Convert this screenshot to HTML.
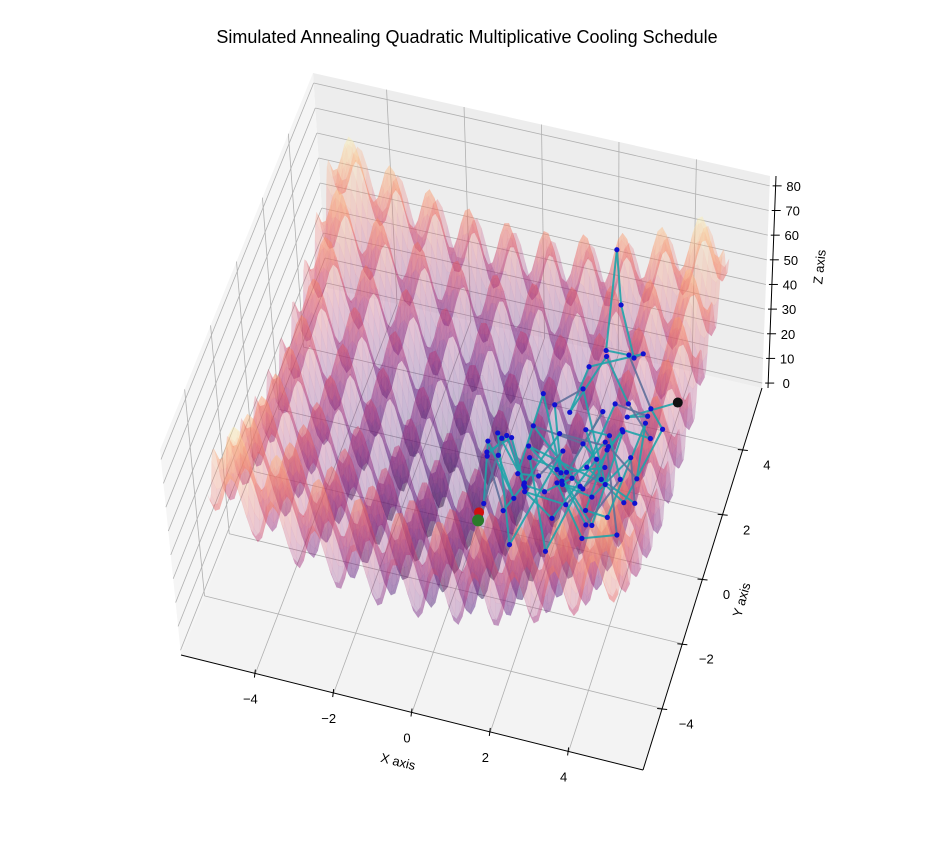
<!DOCTYPE html>
<html><head><meta charset="utf-8"><style>
body{margin:0;background:#fff;}
svg{display:block;font-family:"Liberation Sans",sans-serif;}
</style></head><body>
<svg id="chart" width="943" height="847" viewBox="0 0 943 847">
<text x="467" y="43" text-anchor="middle" font-size="18">Simulated Annealing Quadratic Multiplicative Cooling Schedule</text>
<g id="panes"></g>
<g id="grid"></g>
<g id="surface"></g>
<g id="path"></g>
<g id="axes"></g>
<text x="398" y="766" font-size="13" text-anchor="middle" transform="rotate(14 398 762)">X axis</text>
<text x="742" y="604" font-size="13" text-anchor="middle" transform="rotate(-74 742 600)">Y axis</text>
<text x="820" y="271" font-size="13" text-anchor="middle" transform="rotate(-84 820 267)">Z axis</text>
</svg>
<script>
// ---- data ----
const xTicks = [-4, -2, 0, 2, 4];
const yTicks = [-4, -2, 0, 2, 4];
const zTicks = [0, 10, 20, 30, 40, 50, 60, 70, 80];
const pathX = [4.7, 3.6, 4.3, 3.2, 2.8, 3.9, 4.6, 4.1, 3.3, 2.5, 2.4, 2.6, 3.0, 3.5, 2.2, 1.8, 2.6, 3.4, 4.2, 3.7, 2.9, 2.0, 1.5, 2.4, 3.1, 1.2, 1.9, 2.7, 2.3, 1.6, 2.1, 2.8, 1.4, 2.5, 3.0, 2.2, 1.7, 2.6, 3.3, 2.0, 1.3, 0.8, 1.6, 2.4, 1.1, 0.5, 1.0, 1.8, 2.9, 3.6, 3.0, 2.3, 3.2, 3.9, 3.4, 2.7, 3.5, 4.1, 3.8, 3.1, 2.6, 3.3, 4.0, 3.6, 2.9, 3.7, 4.3, 3.9, 3.2, 2.5, 1.9, 1.3, 0.9, 0.4, 0.7, 1.2, 0.6, 0.1, 0.3, 0.9, 0.5, 0.2, 0.6, 0.05, 0.0];
const pathY = [1.95, 1.2, 0.6, 1.5, 0.3, -0.2, 0.9, 1.6, 2.4, 3.1, 4.4, 4.1, 3.9, 3.0, 2.6, 2.2, 2.8, 2.0, 1.2, 0.4, -0.4, 0.8, 1.9, 1.4, 0.9, 0.6, 1.1, 2.1, 0.2, -0.6, -1.1, -0.3, 0.4, 1.0, 0.5, -0.8, -1.4, -0.9, 0.2, 0.7, 1.6, 0.9, 0.1, -0.4, -0.9, 0.3, 0.8, 1.3, 1.9, 0.8, 0.0, -0.6, -1.2, -0.5, 0.3, 0.6, -0.8, 0.1, 0.8, -0.3, -1.6, -1.9, -1.2, -0.6, -0.2, -1.0, 0.4, 1.0, 0.6, 0.0, -0.4, -0.2, -0.7, -0.3, 0.4, 0.2, 1.1, 0.6, 0.9, 0.2, -0.5, -0.1, 0.3, 0.05, 0.0];

// ---- projection ----
const XMIN=-5.9, XMAX=5.9, YMIN=-5.9, YMAX=5.9, ZMIN=-2, ZMAX=84;
const SMIN=-5.12, SMAX=5.12;
const FL=[181,655], FR=[643,770], BR=[762,388], BL=[327,288];
const ZFL=[-21,-205], ZFR=[-5,-215], ZBR=[8,-212], ZBL=[-14,-215];
function bil(a,b,c,d,u,v,i){return a[i]*(1-u)*(1-v)+b[i]*u*(1-v)+c[i]*u*v+d[i]*(1-u)*v;}
function P(x,y,z){
  const u=(x-XMIN)/(XMAX-XMIN), v=(y-YMIN)/(YMAX-YMIN), w=(z-ZMIN)/(ZMAX-ZMIN);
  return [bil(FL,FR,BR,BL,u,v,0)+w*bil(ZFL,ZFR,ZBR,ZBL,u,v,0),
          bil(FL,FR,BR,BL,u,v,1)+w*bil(ZFL,ZFR,ZBR,ZBL,u,v,1)];
}
function f(x,y){return 20+x*x-10*Math.cos(2*Math.PI*x)+y*y-10*Math.cos(2*Math.PI*y);}
const NS="http://www.w3.org/2000/svg";
function mk(tag,parent,attrs){const e=document.createElementNS(NS,tag);for(const k in attrs)e.setAttribute(k,attrs[k]);parent.appendChild(e);return e;}
function pts(a){return a.map(p=>p[0].toFixed(1)+","+p[1].toFixed(1)).join(" ");}

// panes
const panes=document.getElementById('panes');
let e;
e=mk('polygon',panes,{points:pts([P(XMIN,YMIN,ZMIN),P(XMAX,YMIN,ZMIN),P(XMAX,YMAX,ZMIN),P(XMIN,YMAX,ZMIN)]),fill:'#f3f3f3'});


e=mk('polygon',panes,{points:pts([P(XMIN,YMAX,ZMIN),P(XMAX,YMAX,ZMIN),P(XMAX,YMAX,ZMAX),P(XMIN,YMAX,ZMAX)]),fill:'#ededed'});


e=mk('polygon',panes,{points:pts([P(XMIN,YMIN,ZMIN),P(XMIN,YMAX,ZMIN),P(XMIN,YMAX,ZMAX),P(XMIN,YMIN,ZMAX)]),fill:'#f5f5f5'});



// grid
const grid=document.getElementById('grid');
function gl(a,b,name){const l=mk('line',grid,{x1:a[0],y1:a[1],x2:b[0],y2:b[1],stroke:'#b0b0b0','stroke-width':0.8});
  
  }
xTicks.forEach(t=>{gl(P(t,YMIN,ZMIN),P(t,YMAX,ZMIN),'floor-grid-x');gl(P(t,YMAX,ZMIN),P(t,YMAX,ZMAX),'back-grid-x');});
yTicks.forEach(t=>{gl(P(XMIN,t,ZMIN),P(XMAX,t,ZMIN),'floor-grid-y');gl(P(XMIN,t,ZMIN),P(XMIN,t,ZMAX),'left-grid-y');});
zTicks.forEach(t=>{gl(P(XMIN,YMAX,t),P(XMAX,YMAX,t),'back-grid-z');gl(P(XMIN,YMIN,t),P(XMIN,YMAX,t),'left-grid-z');});

// surface
const magma=[[0,0,0,4],[0.13,28,16,68],[0.25,79,18,123],[0.38,129,37,129],[0.5,181,54,122],[0.63,229,89,100],[0.75,251,135,97],[0.88,254,194,135],[1,252,253,191]];
function cmap(t){t=Math.max(0,Math.min(1,t));for(let i=1;i<magma.length;i++){if(t<=magma[i][0]){const a=magma[i-1],b=magma[i],s=(t-a[0])/(b[0]-a[0]);
  return 'rgb('+[1,2,3].map(k=>Math.round(a[k]+(b[k]-a[k])*s)).join(',')+')';}}return 'rgb(252,253,191)';}
const N=90, polys=[];
for(let i=0;i<N;i++)for(let j=0;j<N;j++){
  const x0=SMIN+(SMAX-SMIN)*i/N,x1=SMIN+(SMAX-SMIN)*(i+1)/N,y0=SMIN+(SMAX-SMIN)*j/N,y1=SMIN+(SMAX-SMIN)*(j+1)/N;
  const zs=[f(x0,y0),f(x1,y0),f(x1,y1),f(x0,y1)];const zm=(zs[0]+zs[1]+zs[2]+zs[3])/4;
  const c=P((x0+x1)/2,(y0+y1)/2,0);
  polys.push({p:[P(x0,y0,zs[0]),P(x1,y0,zs[1]),P(x1,y1,zs[2]),P(x0,y1,zs[3])],z:zm,d:c[1]+zm*0.8});
}
polys.sort((a,b)=>a.d-b.d);
const surf=document.getElementById('surface');
polys.forEach(q=>{const col=cmap(q.z/80.7);
  const pg=mk('polygon',surf,{points:pts(q.p),fill:col,'fill-opacity':0.26,stroke:col,'stroke-opacity':0.05,'stroke-width':0.4});
  
  
});

// path
const pathG=document.getElementById('path');
const sp=pathX.map((x,i)=>P(x,pathY[i],f(x,pathY[i])));
for(let i=0;i<sp.length-1;i++){
  const col=(i%5===2)?'#5f6f9a':'#1fa3a8';
  const l=mk('line',pathG,{x1:sp[i][0],y1:sp[i][1],x2:sp[i+1][0],y2:sp[i+1][1],stroke:col,'stroke-width':2,'stroke-opacity':0.9});
  
  
}
sp.forEach(p=>{const c=mk('circle',pathG,{cx:p[0],cy:p[1],r:2.6,fill:'#1010d0'});
  
  });
const st=mk('circle',pathG,{cx:sp[0][0],cy:sp[0][1],r:5,fill:'#111'});


const last=sp[sp.length-1];
const rd=mk('circle',pathG,{cx:last[0]+1,cy:last[1]-8,r:5,fill:'#d01010'});


const gr=mk('circle',pathG,{cx:last[0],cy:last[1],r:6,fill:'#2a7a2a'});



// axes ticks and labels
const axes=document.getElementById('axes');
function tl(x,y,s,name){const t=mk('text',axes,{x:x,y:y,'font-size':13,'text-anchor':'middle'});t.textContent=s;
  
  }
function fmt(v){return v<0?'\u2212'+(-v):String(v);}
function al(a,b,name){const l=mk('line',axes,{x1:a[0],y1:a[1],x2:b[0],y2:b[1],stroke:'#000','stroke-width':1});
  
  }
al(P(XMIN,YMIN,ZMIN),P(XMAX,YMIN,ZMIN),'x-axis-line');
al(P(XMAX,YMIN,ZMIN),P(XMAX,YMAX,ZMIN),'y-axis-line');
xTicks.forEach(t=>{const p=P(t,YMIN,ZMIN);
  const m=mk('line',axes,{x1:p[0],y1:p[1]-4,x2:p[0]-1,y2:p[1]+4,stroke:'#000','stroke-width':1});
  
  
  tl(p[0]-5,p[1]+30,fmt(t),'x-tick-label');});
yTicks.forEach(t=>{const p=P(XMAX,t,ZMIN);
  const m=mk('line',axes,{x1:p[0]-5,y1:p[1],x2:p[0]+5,y2:p[1]+1,stroke:'#000','stroke-width':1});
  
  
  tl(p[0]+24,p[1]+20,fmt(t),'y-tick-label');});
zTicks.forEach(t=>{const p=P(XMAX,YMAX,t);
  const m=mk('line',axes,{x1:p[0]+3,y1:p[1],x2:p[0]+12,y2:p[1],stroke:'#000','stroke-width':1});
  
  
  tl(p[0]+24,p[1]+5,String(t),'z-tick-label');});
const zb=P(XMAX,YMAX,ZMIN), zt=P(XMAX,YMAX,ZMAX);
al([zb[0]+6,zb[1]],[zt[0]+6,zt[1]],'z-axis-line');
</script>
</body></html>
